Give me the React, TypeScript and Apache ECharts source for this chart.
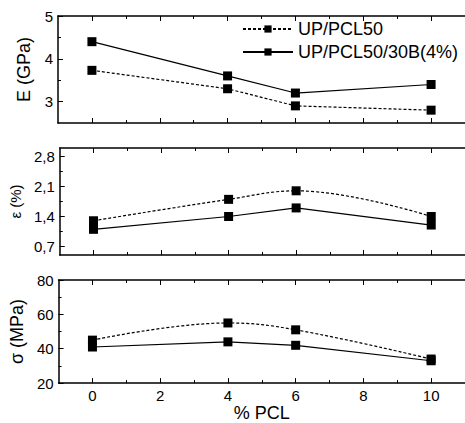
import React, { useEffect, useRef } from "react";
import * as echarts from "echarts";

const PCL = [0, 4, 6, 10];
const E_PCL50 = [3.73, 3.3, 2.9, 2.8];
const E_30B = [4.4, 3.6, 3.2, 3.4];
const EPS_PCL50 = [1.3, 1.8, 2.0, 1.4];
const EPS_30B = [1.1, 1.4, 1.6, 1.2];
const SIG_PCL50 = [45, 55, 51, 34];
const SIG_30B = [41, 44, 42, 33];

const SERIES_NAMES = ["UP/PCL50", "UP/PCL50/30B(4%)"];

const X_MAJOR = [0, 2, 4, 6, 8, 10];
const X_MINOR = [1, 3, 5, 7, 9];
const E_MAJOR = [3, 4, 5];
const E_MINOR = [3.5, 4.5];
const EPS_MAJOR = [0.7, 1.4, 2.1, 2.8];
const EPS_MINOR = [1.05, 1.75, 2.45];
const SIG_MAJOR = [20, 40, 60, 80];
const SIG_MINOR = [30, 50, 70];

const FONT = "Liberation Sans, Arial, Helvetica, sans-serif";

export default function App() {
  const ref = useRef<HTMLDivElement>(null);

  useEffect(() => {
    if (!ref.current) return;
    const chart = echarts.init(ref.current, null, { renderer: "svg" });

    const panels = [
      {
        top: 16,
        min: 2.5,
        max: 5,
        major: E_MAJOR,
        minor: E_MINOR,
        name: "E (GPa)",
        nameSize: 18,
        nameGap: 25,
        fmt: (v: number) => String(v),
        a: E_PCL50,
        b: E_30B,
        smooth: false,
      },
      {
        top: 148,
        min: 0.5,
        max: 3.0,
        major: EPS_MAJOR,
        minor: EPS_MINOR,
        name: "ε (%)",
        nameSize: 15,
        nameGap: 29,
        fmt: (v: number) => v.toFixed(1).replace(".", ","),
        a: EPS_PCL50,
        b: EPS_30B,
        smooth: true,
      },
      {
        top: 280,
        min: 20,
        max: 80,
        major: SIG_MAJOR,
        minor: SIG_MINOR,
        name: "σ (MPa)",
        nameSize: 18,
        nameGap: 25,
        fmt: (v: number) => String(v),
        a: SIG_PCL50,
        b: SIG_30B,
        smooth: true,
      },
    ];

    const lineBase = { show: true, onZero: false, lineStyle: { color: "#000", width: 1.5 } };
    const noLine = { show: false, onZero: false };
    const grids: any[] = [];
    const xAxes: any[] = [];
    const yAxes: any[] = [];
    const series: any[] = [];

    panels.forEach((p, g) => {
      const last = g === panels.length - 1;
      grids.push({ left: 58, width: 416, top: p.top, height: 107 });
      const xCommon = {
        type: "value",
        gridIndex: g,
        min: -1,
        max: 11,
        splitLine: { show: false },
      };
      xAxes.push({
        ...xCommon,
        position: "bottom",
        axisLine: lineBase,
        axisTick: {
          show: true,
          inside: true,
          length: 5,
          customValues: X_MAJOR,
          lineStyle: { color: "#000", width: 1 },
        },
        axisLabel: {
          show: last,
          customValues: X_MAJOR,
          margin: 5,
          color: "#000",
          fontSize: 15,
          fontFamily: FONT,
        },
        name: last ? "% PCL" : "",
        nameLocation: "middle",
        nameGap: 19,
        nameTextStyle: { color: "#000", fontSize: 18, fontFamily: FONT },
      });
      xAxes.push({
        ...xCommon,
        position: "bottom",
        axisLine: noLine,
        axisTick: {
          show: true,
          inside: true,
          length: 3,
          customValues: X_MINOR,
          lineStyle: { color: "#000", width: 1 },
        },
        axisLabel: { show: false },
      });
      xAxes.push({
        ...xCommon,
        position: "top",
        axisLine: lineBase,
        axisTick: {
          show: true,
          inside: true,
          length: 5,
          customValues: X_MAJOR,
          lineStyle: { color: "#000", width: 1 },
        },
        axisLabel: { show: false },
      });
      xAxes.push({
        ...xCommon,
        position: "top",
        axisLine: noLine,
        axisTick: {
          show: true,
          inside: true,
          length: 3,
          customValues: X_MINOR,
          lineStyle: { color: "#000", width: 1 },
        },
        axisLabel: { show: false },
      });

      const yCommon = {
        type: "value",
        gridIndex: g,
        min: p.min,
        max: p.max,
        position: "left",
        splitLine: { show: false },
      };
      yAxes.push({
        ...yCommon,
        axisLine: lineBase,
        axisTick: {
          show: true,
          inside: true,
          length: 5,
          customValues: p.major,
          lineStyle: { color: "#000", width: 1 },
        },
        axisLabel: {
          show: true,
          customValues: p.major,
          formatter: p.fmt,
          margin: 5,
          color: "#000",
          fontSize: 15,
          fontFamily: FONT,
        },
        name: p.name,
        nameLocation: "middle",
        nameRotate: 90,
        nameGap: p.nameGap,
        nameTextStyle: { color: "#000", fontSize: p.nameSize, fontFamily: FONT },
      });
      yAxes.push({
        ...yCommon,
        axisLine: noLine,
        axisTick: {
          show: true,
          inside: true,
          length: 3,
          customValues: p.minor,
          lineStyle: { color: "#000", width: 1 },
        },
        axisLabel: { show: false },
      });

      const mk = (name: string, vals: number[], dashed: boolean) => ({
        type: "line",
        name,
        xAxisIndex: g * 4,
        yAxisIndex: g * 2,
        data: PCL.map((x, i) => [x, vals[i]]),
        symbol: "rect",
        symbolSize: 9,
        smooth: dashed && p.smooth ? 0.4 : false,
        itemStyle: { color: "#000" },
        lineStyle: {
          color: "#000",
          width: 1.2,
          type: dashed ? [3, 2] : "solid",
        },
        z: dashed ? 3 : 2,
      });
      series.push(mk(SERIES_NAMES[0], p.a, true));
      series.push(mk(SERIES_NAMES[1], p.b, false));
    });

    chart.setOption({
      animation: false,
      backgroundColor: "#fff",
      textStyle: { fontFamily: FONT },
      legend: {
        data: SERIES_NAMES,
        orient: "vertical",
        left: 242,
        top: 20,
        padding: 0,
        itemGap: 5,
        itemWidth: 50,
        itemHeight: 9,
        selectedMode: false,
        textStyle: { color: "#000", fontSize: 18, fontFamily: FONT, padding: [0, 0, 0, 0] },
      },
      grid: grids,
      xAxis: xAxes,
      yAxis: yAxes,
      series,
    });

    return () => chart.dispose();
  }, []);

  return (
    <div
      ref={ref}
      style={{ position: "absolute", left: 0, top: 0, width: 465, height: 423 }}
    />
  );
}
